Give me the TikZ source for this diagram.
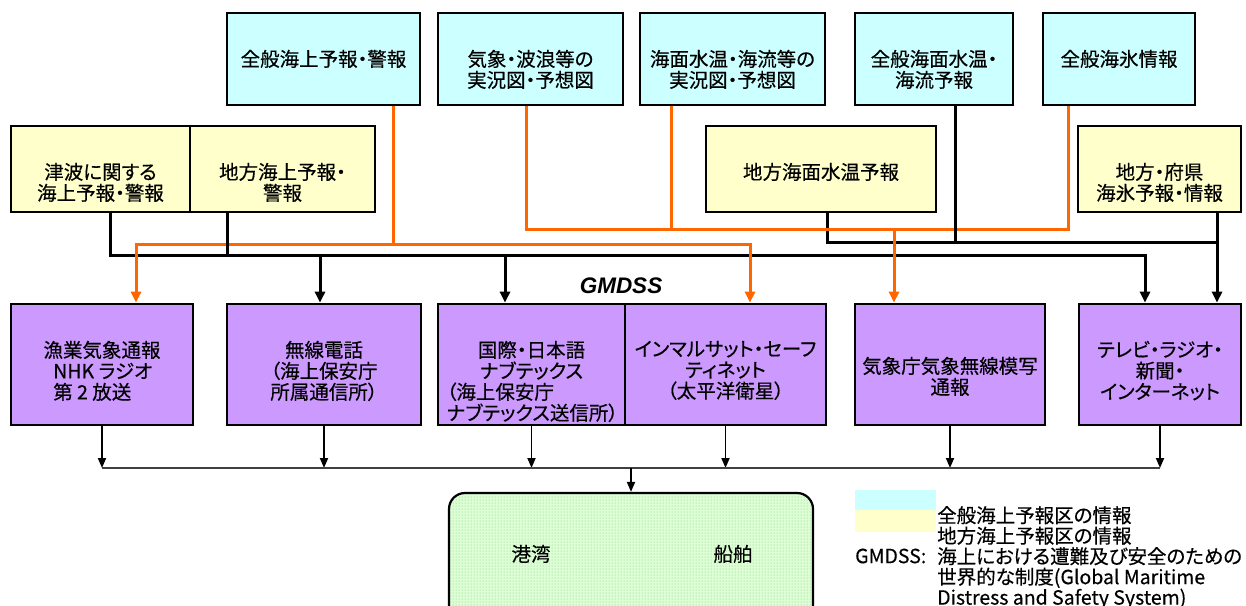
\documentclass[tikz,border=0pt]{standalone}
\usepackage{fontspec}
\setmainfont{Noto Sans CJK JP}[RawFeature=+palt, FakeBold=0.4]
\newfontfamily\labelfont{Liberation Sans}
\usetikzlibrary{arrows.meta,patterns}

\definecolor{seacyan}{RGB}{204,255,255}
\definecolor{localyellow}{RGB}{255,255,204}
\definecolor{mediapurple}{RGB}{204,153,255}
\definecolor{routeorange}{RGB}{255,102,0}
\definecolor{portgreen}{RGB}{222,255,214}
\definecolor{dotgreen}{RGB}{115,195,115}

\tikzset{
    genbox/.style={draw, line width=2.7pt, fill=seacyan, minimum height=92pt, inner sep=0pt},
    locbox/.style={draw, line width=2.7pt, fill=localyellow, minimum height=86pt, inner sep=0pt},
    outbox/.style={draw, line width=2.7pt, fill=mediapurple, minimum height=121pt, inner sep=0pt},
    portbox/.style={draw, line width=2.2pt, rounded corners=16pt, preaction={fill=portgreen},
        pattern=dots, pattern color=dotgreen, minimum width=364pt, minimum height=150pt},
    boxtext/.style={anchor=north, inner sep=0pt, align=center, font=\fontsize{19.5pt}{21pt}\selectfont},
    porttext/.style={inner sep=0pt, font=\fontsize{19.5pt}{21pt}\selectfont},
    legtext/.style={inner sep=0pt, align=left, font=\fontsize{19.5pt}{20.5pt}\selectfont},
    feed/.style={line width=3pt},
    ofeed/.style={feed, draw=routeorange},
    drop/.style={line width=1.8pt, -{Triangle[length=10pt,width=8pt]}},
    busline/.style={line width=1.6pt, draw=black!75},
}

\begin{document}
\begin{tikzpicture}[x=1pt, y=-1pt, >={Triangle[length=11pt,width=10pt]}]
    \useasboundingbox (0,0) rectangle (1246,605);

    % general forecasts
    \foreach \nd/\x/\w/\lbl in {
        genwarn/323.5/193pt/{全般海上予報・警報},
        wavechart/530.5/185pt/{気象・波浪等の\\実況図・予想図},
        tempchart/732.5/185pt/{海面水温・海流等の\\実況図・予想図},
        gentemp/934/158pt/{全般海面水温・\\海流予報},
        genice/1119/152pt/{全般海氷情報}}{
        \node[genbox, minimum width=\w] (\nd) at (\x,59) {};
        \node[boxtext] (\nd-t) at ([yshift=-38pt]\nd.north) {\lbl};
    }

    % local forecasts
    \foreach \nd/\x/\w/\lbl in {
        tsunami/100.5/179pt/{津波に関する\\海上予報・警報},
        localwarn/282.5/185pt/{地方海上予報・\\警報},
        loctemp/821/230pt/{地方海面水温予報},
        localice/1159.5/163pt/{地方・府県\\海氷予報・情報}}{
        \node[locbox, minimum width=\w] (\nd) at (\x,169) {};
        \node[boxtext] (\nd-t) at ([yshift=-38pt]\nd.north) {\lbl};
    }

    % broadcasts
    \foreach \nd/\x/\w/\dy/\lbl in {
        fishrad/102/182pt/0pt/{漁業気象通報\\\makebox[5em][l]{NHK ラジオ}\\\makebox[5em][l]{第 2 放送}},
        radiotel/324/194pt/0pt/{無線電話\\（海上保安庁\\所属通信所）},
        navtex/531.5/187pt/0pt/{国際・日本語\\ナブテックス\\\makebox[8.7em][l]{（海上保安庁}\\\makebox[8.7em][l]{ナブテックス送信所）}},
        inmarsat/725.5/201pt/0pt/{インマルサット・セーフ\\ティネット\\（太平洋衛星）},
        jmafax/950/190pt/16pt/{気象庁気象無線模写\\通報},
        media/1160/162pt/0pt/{テレビ・ラジオ・\\新聞・\\インターネット}}{
        \node[outbox, minimum width=\w] (\nd) at (\x,364.5) {};
        \node[boxtext] (\nd-t) at ([yshift={-38pt-\dy}]\nd.north) {\lbl};
    }

    \node[font=\labelfont\bfseries\itshape\fontsize{22.5pt}{24pt}\selectfont, inner sep=0pt] (gmdss) at (621,286) {GMDSS};

    % black feeds
    \coordinate (ktsu) at (110,255);
    \coordinate (kloc) at (227,255);
    \coordinate (krad) at (320,255);
    \coordinate (knav) at (505,255);
    \coordinate (ktv) at (1145,255);
    \draw[feed,->] (tsunami.south -| ktsu) -- (ktsu) -- (ktv) -- (ktv |- media.north);
    \draw[feed,->] (krad) -- (krad |- radiotel.north);
    \draw[feed,->] (knav) -- (knav |- navtex.north);

    \coordinate (ttemp) at (827,242);
    \coordinate (tgen) at (955,242);
    \coordinate (tice) at (1217,242);
    \draw[feed] (loctemp.south -| ttemp) -- (ttemp) -- (tice);
    \draw[feed,->] (localice.south -| tice) -- (tice |- media.north);

    % orange feeds
    \coordinate (oset) at (136,244);
    \coordinate (ogen) at (393,244);
    \coordinate (oinm) at (750,244);
    \draw[ofeed,<->] (oset |- fishrad.north) -- (oset) -- (oinm) -- (oinm |- inmarsat.north);
    \draw[ofeed] (genwarn.south -| ogen) -- (ogen);

    \coordinate (owave) at (526,229);
    \coordinate (otemp) at (671,229);
    \coordinate (ofax) at (894,229);
    \coordinate (oice) at (1068,229);
    \draw[ofeed] (wavechart.south -| owave) -- (owave) -- (oice) -- (genice.south -| oice);
    \draw[ofeed] (tempchart.south -| otemp) -- (otemp);
    \draw[ofeed,->] (ofax) -- (ofax |- jmafax.north);

    % black drops over the orange
    \draw[feed] (localwarn.south -| kloc) -- (kloc);
    \draw[feed] (gentemp.south -| tgen) -- (tgen);

    % port and ships
    \node[portbox] (harbor) at (631,568) {};
    \node[porttext] (port) at ([xshift=-100pt,yshift=-62pt]harbor.north) {港湾};
    \node[porttext] (ship) at ([xshift=102pt,yshift=-62pt]harbor.north) {船舶};

    \coordinate (dbus) at (0,468);
    \foreach \nd in {fishrad,radiotel,navtex,inmarsat,jmafax,media}{
        \draw[drop] (\nd.south) -- (\nd.south |- dbus);
    }
    \draw[busline] (fishrad.south |- dbus) -- (media.south |- dbus);
    \draw[drop] (harbor.north |- dbus) -- (harbor.north);

    % legend
    \fill[seacyan] (855,490) rectangle (936,510);
    \fill[localyellow] (855,510) rectangle (936,532);
    \node[legtext, anchor=north west] (legend) at (937,506) {全般海上予報区の情報\\地方海上予報区の情報\\海上における遭難及び安全のための\\世界的な制度(Global Maritime\\Distress and Safety System)};
    \node[legtext, anchor=west] (abbr) at (855,556) {GMDSS:};
\end{tikzpicture}
\end{document}
